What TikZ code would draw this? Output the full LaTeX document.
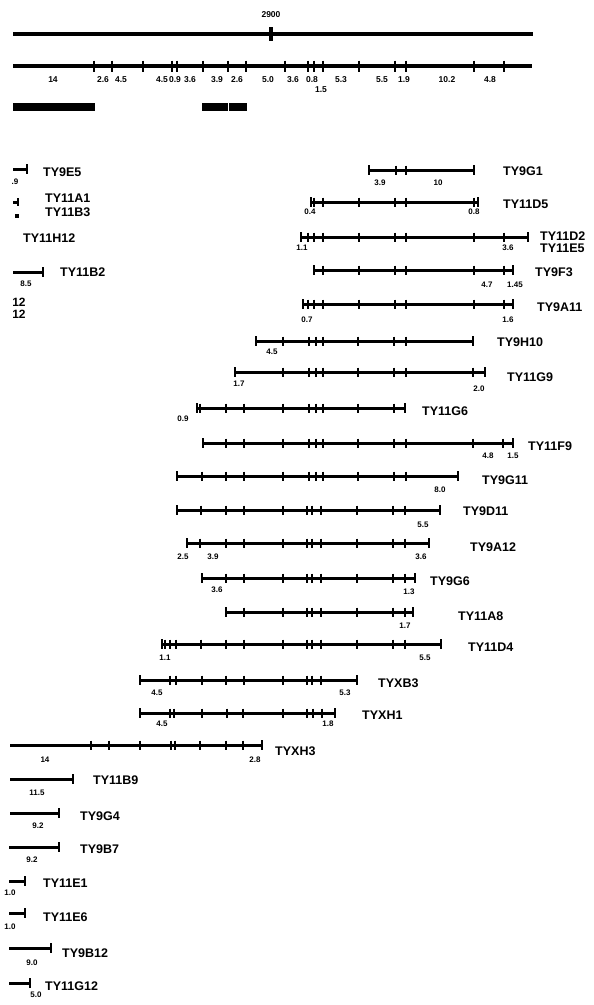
\documentclass[tikz,border=0pt]{standalone}
\usepackage{fontspec}
\setmainfont{Liberation Sans}
\tikzset{
  mline/.style={line width=3.4pt},
  cline/.style={line width=3pt},
  tk/.style={line width=1.6pt},
  etk/.style={line width=1.7pt},
  nm/.style={anchor=west, inner sep=0pt, font=\fontsize{12.5}{12.5}\selectfont\bfseries},
  num/.style={inner sep=0pt, font=\fontsize{8}{8}\selectfont\bfseries},
  mnum/.style={inner sep=0pt, font=\fontsize{8.5}{8.5}\selectfont\bfseries},
}
% y, x1, x2, internal ticks
\newcommand\crow[4]{%
  \draw[cline] (#2,#1) -- (#3,#1);
  \draw[etk] (#2,#1-5) -- (#2,#1+5);
  \draw[etk] (#3,#1-5) -- (#3,#1+5);
  \foreach \t in {#4} {\draw[tk] (\t,#1-4.5) -- (\t,#1+4.5);}
}
% y, x1, x2 : only right end tick
\newcommand\lrow[3]{%
  \draw[cline] (#2,#1) -- (#3,#1);
  \draw[etk] (#3,#1-5) -- (#3,#1+5);
}
\begin{document}
\begin{tikzpicture}[x=1pt,y=-1pt]
\useasboundingbox (0,0) rectangle (594,1005);
\fill[white] (0,0) rectangle (594,1005);
% top line
\draw[mline] (13,34) -- (533,34);
\draw[line width=3.4pt] (271,27) -- (271,41);
\node[mnum] (l2900) at (271,15) {2900};
% map line
\draw[mline] (13,66) -- (532,66);
\foreach \t in {94,112,143,172,177,203,228,246,285,308,314,323,359,395,406,474,504}
  {\draw[tk] (\t,60.5) -- (\t,71.5);}
\node[mnum] (m1) at (53,80) {14};
\node[mnum] (m2) at (103,80) {2.6};
\node[mnum] (m3) at (121,80) {4.5};
\node[mnum] (m4) at (162,80) {4.5};
\node[mnum] (m5) at (175,80) {0.9};
\node[mnum] (m6) at (190,80) {3.6};
\node[mnum] (m7) at (217,80) {3.9};
\node[mnum] (m8) at (237,80) {2.6};
\node[mnum] (m9) at (268,80) {5.0};
\node[mnum] (m10) at (293,80) {3.6};
\node[mnum] (m11) at (312,80) {0.8};
\node[mnum] (m12) at (321,90) {1.5};
\node[mnum] (m13) at (341,80) {5.3};
\node[mnum] (m14) at (382,80) {5.5};
\node[mnum] (m15) at (404,80) {1.9};
\node[mnum] (m16) at (447,80) {10.2};
\node[mnum] (m17) at (490,80) {4.8};
% bars
\fill (13,103) rectangle (95,111);
\fill (202,103) rectangle (227.5,111);
\fill (228.5,103) rectangle (247,111);

% left column, upper
\lrow{169}{13}{27}
\node[num] (a1) at (15,182) {.9};
\node[nm] (TY9E5) at (43,172) {TY9E5};
\draw[cline] (13,202) -- (18,202); \draw[etk] (18,198) -- (18,206);
\fill (15,214) rectangle (19,218);
\node[nm] (TY11A1) at (45,198) {TY11A1};
\node[nm] (TY11B3) at (45,212) {TY11B3};
\node[nm] (TY11H12) at (23,238) {TY11H12};
\lrow{272}{13}{43}
\node[num] (a2) at (26,284) {8.5};
\node[nm] (TY11B2) at (60,272) {TY11B2};
\node[inner sep=0pt, font=\fontsize{12}{12}\selectfont\bfseries] (c12a) at (19,302) {12};
\node[inner sep=0pt, font=\fontsize{12}{12}\selectfont\bfseries] (c12b) at (19,314) {12};

% clones
\crow{170}{369}{474}{396,406}
\node[num] (b1) at (380,183) {3.9};
\node[num] (b2) at (438,183) {10};
\node[nm] (TY9G1) at (503,171) {TY9G1};

\crow{202}{311}{478}{314,323,359,395,406,474}
\node[num] (b3) at (310,212) {0.4};
\node[num] (b4) at (474,212) {0.8};
\node[nm] (TY11D5) at (503,204) {TY11D5};

\crow{237}{301}{528}{308,314,323,359,395,406,474,504}
\node[num] (b5) at (302,248) {1.1};
\node[num] (b6) at (508,248) {3.6};
\node[nm] (TY11D2) at (540,236) {TY11D2};
\node[nm] (TY11E5) at (540,248.5) {TY11E5};

\crow{270}{314}{513}{323,359,395,406,474,504}
\node[num] (b7) at (487,285) {4.7};
\node[num] (b8) at (515,285) {1.45};
\node[nm] (TY9F3) at (535,272) {TY9F3};

\crow{304}{303}{513}{308,314,323,359,395,406,474,504}
\node[num] (b9) at (307,320) {0.7};
\node[num] (b10) at (508,320) {1.6};
\node[nm] (TY9A11) at (537,307) {TY9A11};

\crow{341}{256}{473}{283,309,316,323,358,394,406}
\node[num] (b11) at (272,352) {4.5};
\node[nm] (TY9H10) at (497,342) {TY9H10};

\crow{372}{235}{485}{283,309,316,323,358,394,406,473}
\node[num] (b12) at (239,384) {1.7};
\node[num] (b13) at (479,389) {2.0};
\node[nm] (TY11G9) at (507,377) {TY11G9};

\crow{408}{197}{405}{200,226,244,283,309,316,323,358,394}
\node[num] (b14) at (183,419) {0.9};
\node[nm] (TY11G6) at (422,411) {TY11G6};

\crow{443}{203}{513}{226,244,283,309,316,323,358,394,406,473,503}
\node[num] (b15) at (488,456) {4.8};
\node[num] (b16) at (513,456) {1.5};
\node[nm] (TY11F9) at (528,446) {TY11F9};

\crow{476}{177}{458}{202,226,244,283,309,316,323,358,394,406}
\node[num] (b17) at (440,490) {8.0};
\node[nm] (TY9G11) at (482,480) {TY9G11};

\crow{510}{177}{440}{201,226,244,283,307,312,321,357,393,405}
\node[num] (b18) at (423,525) {5.5};
\node[nm] (TY9D11) at (463,511) {TY9D11};

\crow{543}{187}{429}{200,226,244,283,307,312,321,357,393,405}
\node[num] (b19) at (183,557) {2.5};
\node[num] (b20) at (213,557) {3.9};
\node[num] (b21) at (421,557) {3.6};
\node[nm] (TY9A12) at (470,547) {TY9A12};

\crow{578}{202}{415}{226,244,283,307,312,321,357,393,405}
\node[num] (b22) at (217,590) {3.6};
\node[num] (b23) at (409,592) {1.3};
\node[nm] (TY9G6) at (430,581) {TY9G6};

\crow{612}{226}{413}{244,283,307,312,321,357,393,405}
\node[num] (b24) at (405,626) {1.7};
\node[nm] (TY11A8) at (458,616) {TY11A8};

\crow{644}{162}{441}{165,170,176,201,226,244,283,307,312,321,357,393,405}
\node[num] (b25) at (165,658) {1.1};
\node[num] (b26) at (425,658) {5.5};
\node[nm] (TY11D4) at (468,647) {TY11D4};

\crow{680}{140}{357}{170,176,202,226,244,283,307,312,321}
\node[num] (b27) at (157,693) {4.5};
\node[num] (b28) at (345,693) {5.3};
\node[nm] (TYXB3) at (378,683) {TYXB3};

\crow{713}{140}{335}{170,174,202,227,243,283,307,313,322}
\node[num] (b29) at (162,724) {4.5};
\node[num] (b30) at (328,724) {1.8};
\node[nm] (TYXH1) at (362,715) {TYXH1};

\lrow{745}{10}{262}
\foreach \t in {91,109,140,171,175,200,226,243} {\draw[tk] (\t,740.5) -- (\t,749.5);}
\node[num] (b31) at (45,760) {14};
\node[num] (b32) at (255,760) {2.8};
\node[nm] (TYXH3) at (275,751) {TYXH3};

% left column, lower
\lrow{779}{10}{73}
\node[num] (d1) at (37,793) {11.5};
\node[nm] (TY11B9) at (93,780) {TY11B9};

\lrow{813}{10}{59}
\node[num] (d2) at (38,826) {9.2};
\node[nm] (TY9G4) at (80,816) {TY9G4};

\lrow{847}{9}{59}
\node[num] (d3) at (32,860) {9.2};
\node[nm] (TY9B7) at (80,849) {TY9B7};

\lrow{881}{9}{25}
\node[num] (d4) at (10,893) {1.0};
\node[nm] (TY11E1) at (43,883) {TY11E1};

\lrow{913}{9}{25}
\node[num] (d5) at (10,927) {1.0};
\node[nm] (TY11E6) at (43,917) {TY11E6};

\lrow{948}{9}{51}
\node[num] (d6) at (32,963) {9.0};
\node[nm] (TY9B12) at (62,953) {TY9B12};

\lrow{983}{9}{30}
\node[num] (d7) at (36,995) {5.0};
\node[nm] (TY11G12) at (45,986) {TY11G12};
\end{tikzpicture}
\end{document}
